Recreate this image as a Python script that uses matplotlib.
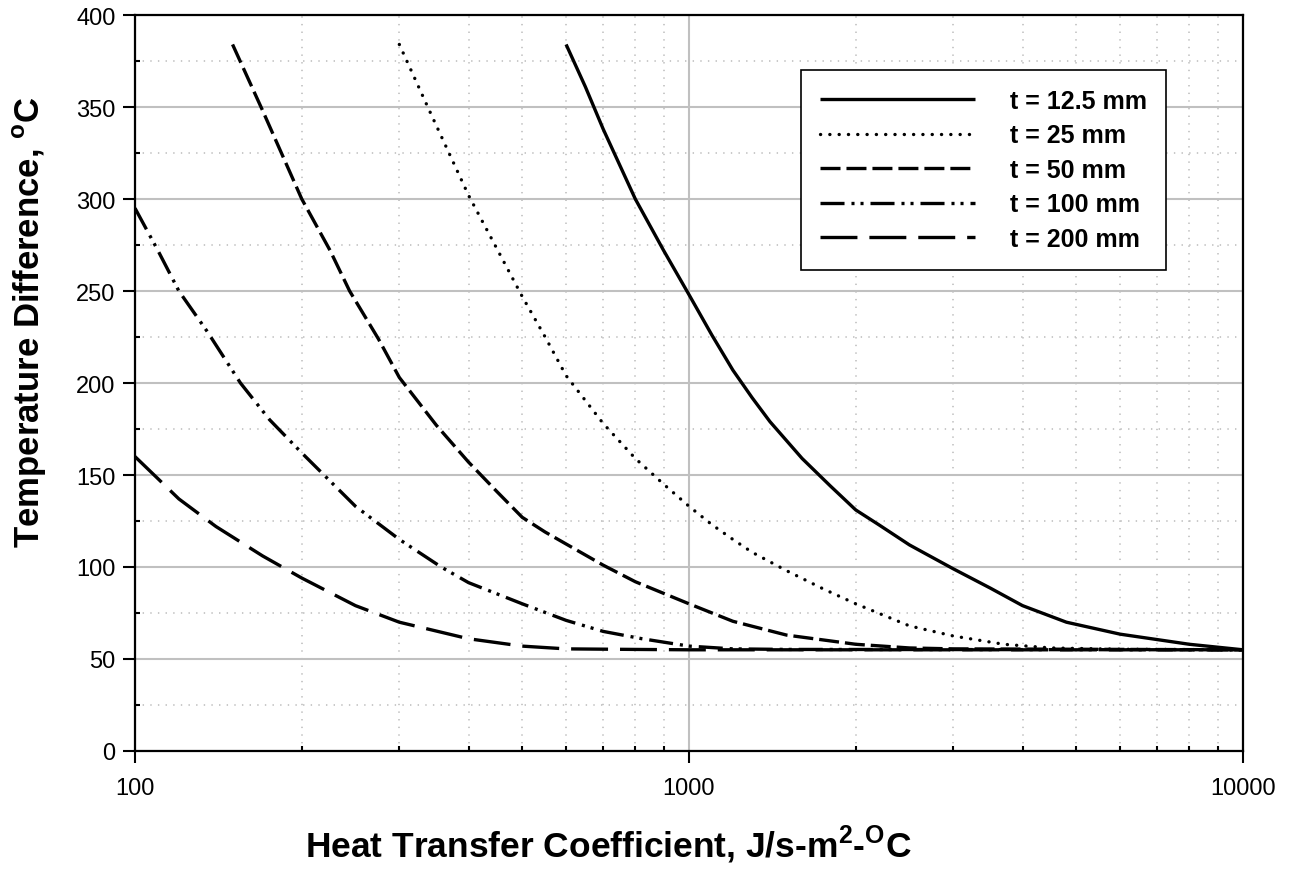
import matplotlib
matplotlib.use("Agg")
import matplotlib.pyplot as plt
from matplotlib.ticker import FixedLocator, NullFormatter, FixedFormatter

plt.rcParams['font.family'] = ['Liberation Sans', 'DejaVu Sans']
plt.rcParams['mathtext.fontset'] = 'custom'
plt.rcParams['mathtext.bf'] = 'Liberation Sans:bold'
plt.rcParams['mathtext.rm'] = 'Liberation Sans:bold'
plt.rcParams['lines.scale_dashes'] = False

# ---- data ----
labels = ["t = 12.5 mm", "t = 25 mm", "t = 50 mm", "t = 100 mm", "t = 200 mm"]

h_125 = [600, 650, 700, 800, 900, 1000, 1100, 1200, 1300, 1400, 1600, 1800, 2000, 2200,
         2500, 2700, 3000, 3500, 4000, 4800, 6000, 8000, 10000]
T_125 = [384, 361, 338, 300, 272, 248, 226, 207, 192, 179, 159, 144, 131, 123,
         112, 106.5, 99, 88.5, 79, 70, 63.5, 58, 55]

h_25 = [300, 340, 400, 450, 500, 550, 600, 700, 800, 900, 1000, 1100, 1200, 1300, 1500,
        1750, 2000, 2500, 3000, 3700, 4500, 6000, 10000]
T_25 = [384, 348, 302, 273, 247, 225, 204, 178, 159, 145, 133, 123, 115, 108, 98,
        88, 80, 68, 62.5, 58, 56, 55.3, 55]

h_50 = [150, 170, 200, 225, 244, 275, 300, 350, 400, 450, 500, 550, 600, 700, 800, 1000,
        1200, 1500, 2000, 2500, 3000, 10000]
T_50 = [384, 348, 300, 272, 250, 224, 203, 177, 157, 141, 127, 119, 112.5, 101, 92, 80,
        70.5, 63, 58, 56, 55.5, 55]

h_100 = [100, 110, 120, 135, 155, 175, 200, 250, 300, 357, 400, 500, 600, 700, 823, 1000,
         1200, 1500, 10000]
T_100 = [295, 272, 250, 228, 200, 180, 162, 133, 115, 100, 91.5, 80, 71, 65, 61, 57,
         55.5, 55.2, 55]

h_200 = [100, 110, 120, 140, 170, 200, 250, 300, 400, 500, 600, 800, 1000, 10000]
T_200 = [160, 148, 137, 122, 106, 94, 79, 70, 61, 57, 55.5, 55.2, 55, 55]

x_ticks = [100, 1000, 10000]
x_tick_labels = ["100", "1000", "10000"]
y_ticks = [0, 50, 100, 150, 200, 250, 300, 350, 400]

# ---- figure ----
W, H = 1295, 879
fig = plt.figure(figsize=(W / 100, H / 100), dpi=100)
L, R, T, B = 135, 1243, 16, 752
ax = fig.add_axes([L / W, 1 - B / H, (R - L) / W, (B - T) / H])

ax.set_xscale('log')
ax.set_xlim(100, 10000)
ax.set_ylim(0, 400)

lw = 2.4
styles = [
    dict(linestyle='-'),
    dict(linestyle=(0, (0.1, 6.6)), dash_capstyle='round'),
    dict(linestyle=(0, (14.4, 4.3)), dash_capstyle='butt'),
    dict(linestyle=(0, (17.3, 5.0, 2.2, 4.3, 2.2, 5.0)), dash_capstyle='butt'),
    dict(linestyle=(0, (26.6, 8.6)), dash_capstyle='butt'),
]
series = [(h_125, T_125), (h_25, T_25), (h_50, T_50), (h_100, T_100), (h_200, T_200)]
for (hx, ty), st, lab in zip(series, styles, labels):
    kw = dict(color='black', linewidth=lw, solid_capstyle='butt', solid_joinstyle='round')
    kw.update(st)
    ax.plot(hx, ty, label=lab, zorder=3, **kw)

# ticks
ax.xaxis.set_major_locator(FixedLocator(x_ticks))
ax.xaxis.set_major_formatter(FixedFormatter(x_tick_labels))
minor_x = [v * d for d in (100, 1000) for v in range(2, 10)]
ax.xaxis.set_minor_locator(FixedLocator(minor_x))
ax.xaxis.set_minor_formatter(NullFormatter())
ax.yaxis.set_major_locator(FixedLocator(y_ticks))
ax.yaxis.set_minor_locator(FixedLocator([25 + 50 * i for i in range(8)]))

ax.tick_params(axis='both', which='major', direction='out', length=8.5, width=1.5,
               labelsize=17, color='black')
ax.tick_params(axis='x', which='major', pad=10)
ax.tick_params(axis='y', which='major', pad=5.5)
ax.tick_params(axis='both', which='minor', direction='in', length=3.5, width=1.5)

# grid
ax.grid(True, which='major', color='#c0c0c0', linewidth=1.5, linestyle='-', zorder=0)
ax.grid(True, which='minor', color='#c0c0c0', linewidth=1.2, linestyle=(0, (1, 4.5)), zorder=0)
ax.set_axisbelow(True)

for sp in ax.spines.values():
    sp.set_linewidth(1.6)
    sp.set_color('black')

# axis labels
fig.text(608 / W, 1 - 845 / H, r"Heat Transfer Coefficient, J/s-m$^{\mathbf{2}}$-$^{\mathbf{O}}$C",
         ha='center', va='center', fontsize=25.5, fontweight='bold')
fig.text(30 / W, 1 - 322 / H, r"Temperature Difference, $^{\mathbf{o}}$C",
         ha='center', va='center', fontsize=25, fontweight='bold', rotation=90)

# legend
leg = ax.legend(loc='upper left', bbox_to_anchor=(801 / W, 1 - 71 / H),
                bbox_transform=fig.transFigure,
                prop={'weight': 'bold', 'size': 18},
                frameon=True, fancybox=False, shadow=False,
                handlelength=6.2, handletextpad=1.4, labelspacing=0.42,
                borderpad=0.75, borderaxespad=0)
leg.get_frame().set_edgecolor('black')
leg.get_frame().set_linewidth(1.2)
leg.get_frame().set_alpha(1)

fig.savefig("out.png", dpi=100)
